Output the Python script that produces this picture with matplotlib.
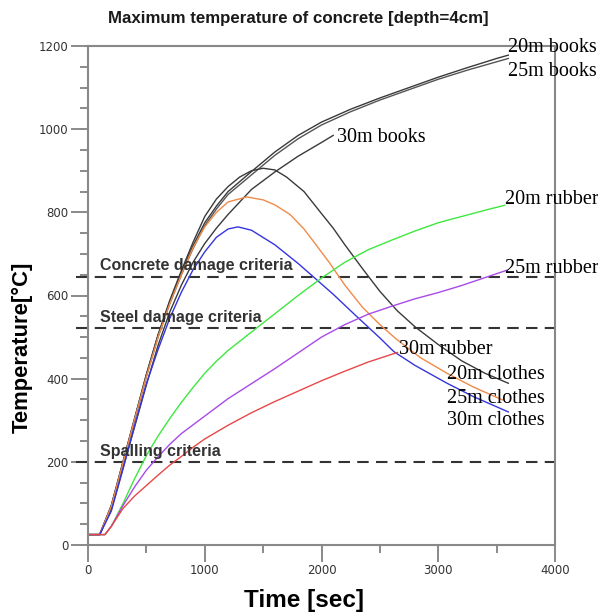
import matplotlib
matplotlib.use("Agg")
import matplotlib.pyplot as plt
from matplotlib.ticker import MultipleLocator

# ---- data (time [s], temperature [C]) ----
t_books20 = [0, 100, 200, 300, 400, 500, 600, 700, 800, 900, 1000, 1100, 1200, 1400, 1600, 1800, 2000, 2250, 2500, 2750, 3000, 3250, 3500, 3600]
T_books20 = [25, 25, 95, 200, 305, 410, 505, 585, 655, 720, 775, 815, 850, 898, 945, 985, 1017, 1048, 1075, 1100, 1125, 1148, 1170, 1178]

t_books25 = [0, 100, 200, 300, 400, 500, 600, 700, 800, 900, 1000, 1100, 1200, 1400, 1600, 1800, 2000, 2250, 2500, 2750, 3000, 3250, 3500, 3600]
T_books25 = [25, 25, 93, 198, 302, 405, 500, 580, 650, 713, 768, 808, 843, 890, 937, 977, 1010, 1042, 1070, 1095, 1120, 1142, 1162, 1170]

t_books30 = [0, 100, 200, 300, 400, 500, 600, 700, 800, 900, 1000, 1100, 1200, 1400, 1600, 1800, 2000, 2100]
T_books30 = [25, 25, 85, 185, 285, 385, 480, 560, 625, 680, 725, 762, 795, 855, 897, 935, 968, 985]

t_clothes20 = [0, 100, 200, 300, 400, 500, 600, 700, 800, 900, 1000, 1100, 1200, 1300, 1400, 1500, 1600, 1700, 1850, 2000, 2100, 2200, 2350, 2500, 2650, 2800, 3000, 3200, 3400, 3600]
T_clothes20 = [25, 25, 95, 200, 305, 410, 505, 588, 660, 728, 790, 832, 862, 885, 900, 906, 902, 885, 850, 797, 762, 722, 665, 610, 563, 525, 482, 443, 413, 389]

t_clothes25 = [0, 100, 200, 300, 400, 500, 600, 700, 800, 900, 1000, 1100, 1200, 1360, 1500, 1600, 1730, 1850, 1950, 2070, 2200, 2350, 2500, 2650, 2850, 3075, 3300, 3550]
T_clothes25 = [25, 25, 93, 198, 303, 405, 500, 580, 650, 715, 765, 800, 825, 837, 830, 818, 795, 760, 723, 678, 625, 572, 530, 493, 450, 413, 380, 349]

t_clothes30 = [0, 100, 200, 300, 400, 500, 600, 700, 800, 900, 1000, 1100, 1200, 1285, 1400, 1600, 1800, 1930, 2100, 2300, 2500, 2620, 2800, 3075, 3300, 3600]
T_clothes30 = [25, 25, 82, 183, 288, 388, 470, 545, 608, 662, 705, 740, 760, 765, 757, 722, 677, 645, 603, 550, 498, 465, 432, 389, 357, 320]

t_rubber20 = [0, 145, 200, 300, 400, 500, 600, 700, 800, 900, 1000, 1100, 1200, 1300, 1400, 1600, 1800, 2000, 2200, 2400, 2600, 2800, 3000, 3200, 3400, 3570]
T_rubber20 = [25, 25, 45, 100, 160, 215, 262, 304, 343, 379, 413, 442, 468, 490, 512, 556, 600, 642, 680, 710, 733, 755, 775, 790, 805, 817]

t_rubber25 = [0, 145, 200, 300, 400, 500, 600, 700, 800, 1000, 1200, 1400, 1600, 1800, 2000, 2200, 2400, 2600, 2800, 3000, 3200, 3400, 3590]
T_rubber25 = [25, 25, 45, 95, 140, 180, 212, 242, 268, 310, 352, 388, 424, 462, 500, 530, 555, 574, 592, 607, 624, 643, 661]

t_rubber30 = [0, 145, 200, 300, 400, 500, 600, 700, 800, 900, 1000, 1200, 1400, 1600, 1800, 2000, 2200, 2400, 2650]
T_rubber30 = [25, 25, 45, 88, 118, 143, 168, 192, 213, 235, 255, 288, 318, 345, 370, 395, 418, 440, 463]

criteria_names = ["Concrete damage criteria", "Steel damage criteria", "Spalling criteria"]
criteria_values = [645, 521, 200]

series = [
    (t_books20, T_books20, "#3a3a3a", "20m books", (3600, 1197)),
    (t_books25, T_books25, "#555555", "25m books", (3600, 1139)),
    (t_books30, T_books30, "#3a3a3a", "30m books", (2135, 981)),
    (t_clothes20, T_clothes20, "#3a3a3a", "20m clothes", (3075, 409)),
    (t_clothes25, T_clothes25, "#f08a4a", "25m clothes", (3075, 353)),
    (t_clothes30, T_clothes30, "#3535e0", "30m clothes", (3075, 300)),
    (t_rubber20, T_rubber20, "#3ee83e", "20m rubber", (3575, 831)),
    (t_rubber25, T_rubber25, "#a84ae8", "25m rubber", (3575, 666)),
    (t_rubber30, T_rubber30, "#e84848", "30m rubber", (2660, 469)),
]

fig = plt.figure(figsize=(5.98, 6.14), dpi=100)
ax = fig.add_axes([88 / 598, 69 / 614, 467 / 598, 499 / 614])

for name, val in zip(criteria_names, criteria_values):
    ax.plot([-100, 4000], [val, val], color="#333333", lw=1.5, dashes=(5.5, 3.5), clip_on=False)
    ax.text(100, val + 8, name, fontsize=11.5, fontweight="bold", color="#333333",
            family="Liberation Sans", va="bottom", ha="left")

for t, T, c, label, pos in series:
    ax.plot(t, T, color=c, lw=1.0)
    ax.text(pos[0], pos[1], label, family="Liberation Serif", fontsize=14.5,
            va="center", ha="left", color="black", clip_on=False)

ax.set_xlim(0, 4000)
ax.set_ylim(0, 1200)
ax.xaxis.set_major_locator(MultipleLocator(1000))
ax.xaxis.set_minor_locator(MultipleLocator(500))
ax.yaxis.set_major_locator(MultipleLocator(200))
ax.yaxis.set_minor_locator(MultipleLocator(50))
ax.tick_params(which="major", length=12, width=1.2, color="#777777", labelsize=8.5,
               labelcolor="#333333", pad=2)
ax.tick_params(which="minor", length=6, width=1.2, color="#777777")
for sp in ax.spines.values():
    sp.set_color("#888888")
    sp.set_linewidth(1.5)

fig.text(298 / 598, 1 - 18 / 614, "Maximum temperature of concrete [depth=4cm]", fontsize=12.2,
         fontweight="bold", family="Liberation Sans", color="#1a1a1a", ha="center", va="center")
ax.set_xlabel("Time [sec]", fontsize=17.5, fontweight="bold", family="Liberation Sans")
ax.xaxis.set_label_coords((304 - 88) / 467, (545 - 600) / 499)
ax.xaxis.label.set_va("center")
ax.set_ylabel("Temperature[°C]", fontsize=15.8, fontweight="bold", family="Liberation Sans")
ax.yaxis.set_label_coords((22 - 88) / 467, (545 - 347) / 499)
ax.yaxis.label.set_va("center")

fig.savefig("out.png", dpi=100)
